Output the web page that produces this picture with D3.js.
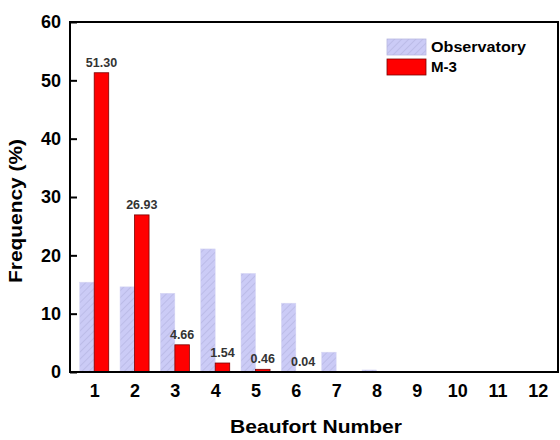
<!DOCTYPE html>
<html>
<head>
<meta charset="utf-8">
<style>
  body { margin: 0; background: #fff; }
  svg { font-family: "Liberation Sans", Arial, sans-serif; }
</style>
</head>
<body>
<svg id="chart" width="560" height="440"></svg>
<script src="https://d3js.org/d3.v7.min.js"></script>
<script>
// beaufort numbers and frequencies (%)
const beaufort = [1, 2, 3, 4, 5, 6, 7, 8, 9, 10, 11, 12];
const observatory = [15.4, 14.6, 13.5, 21.1, 16.9, 11.8, 3.4, 0.35, 0, 0, 0, 0];
const m3 = [51.30, 26.93, 4.66, 1.54, 0.46, 0.04, 0, 0, 0, 0, 0, 0];
const m3Labels = ["51.30", "26.93", "4.66", "1.54", "0.46", "0.04"];
const yTicks = [0, 10, 20, 30, 40, 50, 60];

const margin = {top: 22, right: 2, bottom: 68, left: 70};
const width = 560, height = 440;

const svg = d3.select("#chart");

const x = d3.scaleLinear()
  .domain([0.4, 12.5])
  .range([margin.left, width - margin.right]);
const y = d3.scaleLinear()
  .domain([0, 60])
  .range([height - margin.bottom, margin.top]);

const bw = x(0.36) - x(0);

// hatch for observatory bars
const defs = svg.append("defs");
const pat = defs.append("pattern")
  .attr("id", "hatch")
  .attr("patternUnits", "userSpaceOnUse")
  .attr("width", 5).attr("height", 5)
  .attr("patternTransform", "rotate(45)");
pat.append("rect").attr("width", 5).attr("height", 5).attr("fill", "#cbcbf6");
pat.append("line").attr("x1", 0).attr("y1", 0).attr("x2", 0).attr("y2", 5)
  .attr("stroke", "#b3b3df").attr("stroke-width", 1.2);

// observatory bars
svg.append("g")
  .selectAll("rect")
  .data(beaufort.map((b, i) => ({b, v: observatory[i]})).filter(d => d.v > 0))
  .join("rect")
    .attr("x", d => x(d.b) - bw)
    .attr("y", d => y(d.v))
    .attr("width", bw)
    .attr("height", d => y(0) - y(d.v))
    .attr("fill", "url(#hatch)")
    .attr("stroke", "#d8d8f4")
    .attr("stroke-width", 0.5);

// m-3 bars
svg.append("g")
  .selectAll("rect")
  .data(beaufort.map((b, i) => ({b, v: m3[i]})).filter(d => d.v > 0))
  .join("rect")
    .attr("x", d => x(d.b))
    .attr("y", d => y(d.v))
    .attr("width", bw)
    .attr("height", d => y(0) - y(d.v))
    .attr("fill", "#ff0000")
    .attr("stroke", "#7a0000")
    .attr("stroke-width", 0.8);

// value labels
svg.append("g")
  .selectAll("text")
  .data(m3Labels.map((t, i) => ({t, b: beaufort[i], v: m3[i]})))
  .join("text")
    .attr("x", d => x(d.b) + bw / 2)
    .attr("y", d => y(d.v) - 6)
    .attr("text-anchor", "middle")
    .attr("font-size", 12.5)
    .attr("font-weight", "bold")
    .attr("fill", "#333")
    .text(d => d.t);

// frame
svg.append("rect")
  .attr("x", margin.left)
  .attr("y", margin.top)
  .attr("width", width - margin.left - margin.right)
  .attr("height", height - margin.top - margin.bottom)
  .attr("fill", "none")
  .attr("stroke", "#000")
  .attr("stroke-width", 2);

// y axis, ticks pointing inward
const yAxis = svg.append("g")
  .attr("transform", `translate(${margin.left},0)`)
  .call(d3.axisRight(y).tickValues(yTicks).tickSize(7).tickFormat(d3.format("d")));
yAxis.select(".domain").remove();
yAxis.selectAll("line").attr("stroke-width", 2);
yAxis.selectAll("text")
  .attr("x", -9)
  .attr("text-anchor", "end")
  .attr("font-size", 18)
  .attr("font-weight", "bold")
  .attr("font-family", "Liberation Sans, Arial, sans-serif")
  .attr("fill", "#000");

// x axis labels
const xAxis = svg.append("g")
  .attr("transform", `translate(0,${height - margin.bottom})`)
  .call(d3.axisBottom(x).tickValues(beaufort).tickSize(0).tickFormat(d3.format("d")));
xAxis.select(".domain").remove();
xAxis.selectAll("text")
  .attr("y", 12)
  .attr("dy", "0.71em")
  .attr("font-size", 18)
  .attr("font-weight", "bold")
  .attr("font-family", "Liberation Sans, Arial, sans-serif")
  .attr("fill", "#000");

// axis titles
svg.append("text")
  .attr("x", 316)
  .attr("y", 433)
  .attr("text-anchor", "middle")
  .attr("font-size", 18)
  .attr("font-weight", "bold")
  .attr("textLength", 172)
  .attr("lengthAdjust", "spacingAndGlyphs")
  .text("Beaufort Number");

svg.append("text")
  .attr("transform", "translate(22,211) rotate(-90)")
  .attr("text-anchor", "middle")
  .attr("font-size", 18)
  .attr("font-weight", "bold")
  .attr("textLength", 144)
  .attr("lengthAdjust", "spacingAndGlyphs")
  .text("Frequency (%)");

// legend
const legend = svg.append("g").attr("transform", "translate(387,39)");
const legendItems = [
  {name: "Observatory", fill: "url(#hatch)", stroke: "#b8b8e0", len: 95},
  {name: "M-3", fill: "#ff0000", stroke: "#7a0000", len: 26}
];
legendItems.forEach((d, i) => {
  const g = legend.append("g").attr("transform", `translate(0,${i * 20})`);
  g.append("rect")
    .attr("width", 39).attr("height", 16)
    .attr("fill", d.fill)
    .attr("stroke", d.stroke)
    .attr("stroke-width", 0.8);
  g.append("text")
    .attr("x", 44).attr("y", 8)
    .attr("dy", "0.35em")
    .attr("font-size", 15)
    .attr("font-weight", "bold")
    .attr("textLength", d.len)
    .attr("lengthAdjust", "spacingAndGlyphs")
    .text(d.name);
});
</script>
</body>
</html>
